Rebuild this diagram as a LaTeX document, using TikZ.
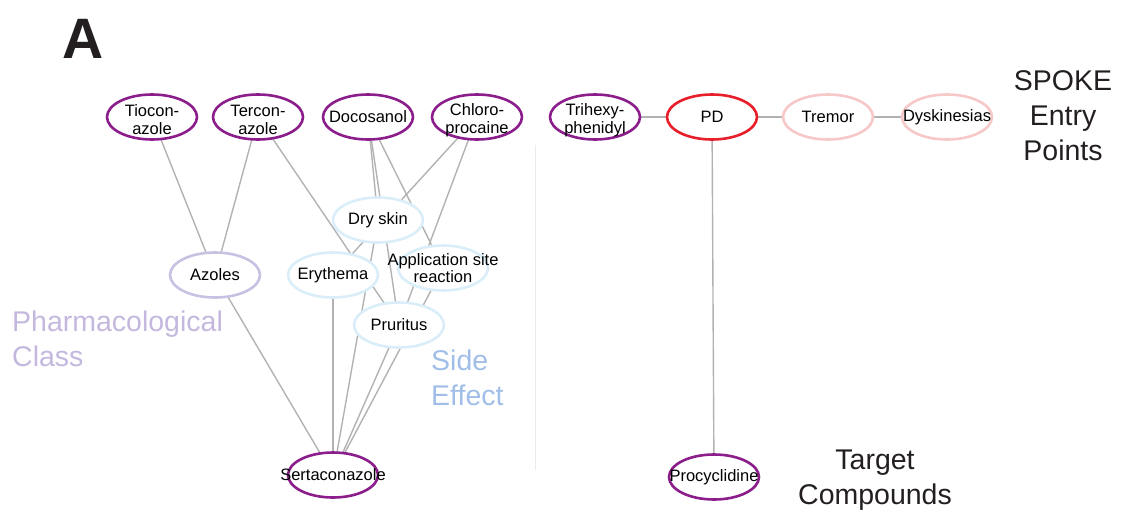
\documentclass[tikz,border=0pt]{standalone}
\usepackage{fontspec}
\setmainfont{Liberation Sans}
\usepackage{tikz}
\usetikzlibrary{shapes.geometric}
\pgfdeclarelayer{edges}
\pgfsetlayers{edges,main}
\definecolor{drugpurple}{RGB}{140,30,140}
\definecolor{pdred}{RGB}{232,30,42}
\definecolor{sympink}{RGB}{246,200,200}
\definecolor{classlav}{RGB}{200,194,226}
\definecolor{seblue}{RGB}{218,238,250}
\definecolor{edgegray}{RGB}{178,178,178}
\definecolor{classtext}{RGB}{196,184,222}
\definecolor{setext}{RGB}{160,190,232}
\definecolor{darktext}{RGB}{35,31,32}
\newcommand{\nodefont}{\fontsize{16.5}{18}\selectfont}
\newcommand{\headfont}{\fontsize{28.5}{35}\selectfont}
\tikzstyle{entity}=[ellipse, fill=white, inner sep=0, outer sep=0, minimum width=90, minimum height=45, line width=2.6pt]
\tikzstyle{txt}=[align=center, inner sep=0, font=\nodefont]
\tikzstyle{twoline}=[txt, yshift=-3pt]
\tikzstyle{drug}=[entity, draw=drugpurple]
\tikzstyle{disease}=[entity, draw=pdred]
\tikzstyle{symptom}=[entity, draw=sympink]
\tikzstyle{pclass}=[entity, draw=classlav]
\tikzstyle{sideeffect}=[entity, draw=seblue]
\tikzstyle{link}=[draw=edgegray, line width=1.4pt]
\tikzstyle{heading}=[inner sep=0, font=\headfont]

\begin{document}
\begin{tikzpicture}[x=1pt, y=-1pt]
    \useasboundingbox (0, 0) rectangle (1121, 517);
    % left network
    \node[drug, label={[twoline]center:Tiocon-\\azole}]    (tio) at (152, 117) {};
    \node[drug, label={[twoline]center:Tercon-\\azole}]    (ter) at (258, 117) {};
    \node[drug, label={[txt]center:Docosanol}]             (doc) at (368, 117) {};
    \node[drug, label={[twoline]center:Chloro-\\procaine}] (chl) at (477, 117) {};
    \node[pclass, label={[txt]center:Azoles}]              (azo) at (215, 275) {};
    \node[sideeffect, label={[txt]center:Dry skin}]        (dry) at (378, 220) {};
    \node[sideeffect, label={[txt]center:Erythema}]        (ery) at (333, 275) {};
    \node[sideeffect, label={[txt, font=\fontsize{16.5}{12.5}\selectfont]center:Application site\\reaction}] (app) at (443, 268) {};
    \node[sideeffect, label={[txt]center:Pruritus}]        (pru) at (399, 325) {};
    \node[drug, label={[txt]center:Sertaconazole}]         (ser) at (333, 475) {};
    % right network
    \node[drug, label={[twoline]center:Trihexy-\\phenidyl}] (tri) at (595, 117) {};
    \node[disease, label={[txt]center:PD}]                 (pd)  at (712, 117) {};
    \node[symptom, label={[txt]center:Tremor}]             (tre) at (828, 117) {};
    \node[symptom, label={[txt]center:Dyskinesias}]        (dys) at (947, 117) {};
    \node[drug, label={[txt]center:Procyclidine}]          (pro) at (714, 477) {};

    \begin{pgfonlayer}{edges}
        \draw[link] (tio.center) -- (azo.center);
        \draw[link] (ter.center) -- (azo.center);
        \draw[link] (ter.center) -- (pru.center);
        \draw[link] (doc.center) -- (dry.center);
        \draw[link] (doc.center) -- (pru.center);
        \draw[link] (doc.center) -- (app.center);
        \draw[link] (chl.center) -- (ery.center);
        \draw[link] (chl.center) -- (pru.center);
        \draw[link] (azo.center) -- (ser.center);
        \draw[link] (ery.center) -- (ser.center);
        \draw[link] (dry.center) -- (ser.center);
        \draw[link] (pru.center) -- (ser.center);
        \draw[link] (app.center) -- (ser.center);
        \draw[link] (tri.center) -- (pd.center) -- (tre.center) -- (dys.center);
        \draw[link] (pd.center) -- (pro.center);
    \end{pgfonlayer}

    % separator
    \draw[black!8, line width=1pt] (535, 145) -- (535, 470);

    \node[inner sep=0, font=\fontsize{57}{57}\bfseries\selectfont, text=darktext] (panel) at (83, 39) {A};
    \node[heading, align=center, text=darktext] (entry) at (1063, 116) {SPOKE\\Entry\\Points};
    \node[heading, align=left, anchor=west, text=classtext] (pharm) at (12, 339) {Pharmacological\\Class};
    \node[heading, align=left, anchor=west, text=setext] (side) at (431, 378) {Side\\Effect};
    \node[heading, align=center, text=darktext] (target) at (875, 480) {Target\\Compounds};
\end{tikzpicture}
\end{document}
